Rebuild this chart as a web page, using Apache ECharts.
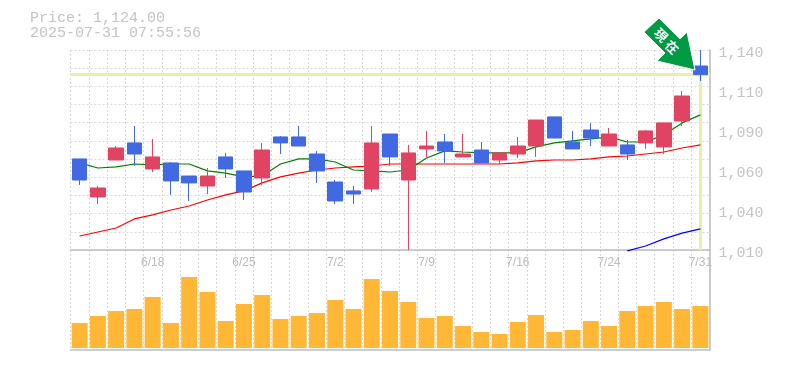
<!DOCTYPE html>
<html>
<head>
<meta charset="utf-8">
<style>html,body{margin:0;padding:0;background:#fff}#c{width:785px;height:370px}</style>
<script src="https://cdn.jsdelivr.net/npm/echarts@6/dist/echarts.min.js"></script>
</head>
<body>
<div id="c"></div>
<script>
const dates = ['6/12','6/13','6/16','6/17','6/18','6/19','6/20','6/23','6/24','6/25','6/26','6/27','6/30','7/1','7/2','7/3','7/4','7/7','7/8','7/9','7/10','7/11','7/14','7/15','7/16','7/17','7/18','7/22','7/23','7/24','7/25','7/28','7/29','7/30','7/31'];
const opens  = [1069.2,1044.5,1068.5,1079.6,1062.7,1066.6,1058.1,1051.6,1070.5,1061.4,1056.8,1083.5,1083.5,1072.4,1054.2,1048.4,1049.7,1085.4,1055.5,1075.7,1080.2,1070.5,1075,1068.5,1072.4,1077.6,1096.5,1080.2,1088,1077.6,1078.3,1079.6,1077,1093.9,1129.6];
const closes = [1055.5,1050.3,1076.3,1072.4,1070.5,1054.9,1053.6,1058.1,1062.7,1047.7,1075,1079.6,1077.6,1061.4,1041.9,1046.4,1079.6,1070.5,1073.1,1077.6,1074.4,1072.4,1066.6,1073.1,1077.6,1094.5,1082.8,1075.7,1082.8,1085.4,1072.4,1087.4,1092.6,1110.1,1124];
const lows   = [1052.3,1039.9,1068.5,1064.6,1060.7,1045.8,1041.9,1046.4,1056.8,1042.5,1052.3,1072.4,1077.6,1053.6,1039.9,1039.9,1047.7,1064.6,1010,1070.5,1066.6,1070.5,1066.6,1065.9,1069.8,1070.5,1082.8,1075.7,1077.6,1077.6,1068.5,1075.7,1072.4,1090.6,1119.9];
const highs  = [1069.2,1051.6,1077.6,1090.6,1082.2,1067.2,1058.1,1063.3,1073.1,1061.4,1079.6,1084.1,1090.6,1074.4,1055.5,1051.6,1090.6,1085.4,1078.3,1087.4,1085.4,1085.4,1080.2,1073.1,1083.5,1094.5,1096.5,1087.4,1092.6,1089.3,1081.5,1088,1092.6,1113.4,1140];
const maShort = [1066.6,1063.3,1064,1065.9,1065.3,1065.9,1065.9,1061.4,1060,1057.5,1058.1,1065.9,1069.2,1069.2,1067.2,1062,1061.4,1060.7,1062,1069.8,1074.4,1073.7,1073.1,1073.1,1073.1,1077,1079.6,1080.9,1082.2,1083.5,1080.2,1080.2,1084.8,1092.6,1097.8];
const maMid = [1019.1,1021.7,1024.3,1030.2,1032.8,1036,1038.6,1042.5,1045.8,1048.4,1053.6,1057.5,1060,1062,1063.3,1064,1064.6,1065.9,1065.9,1065.9,1065.9,1065.9,1065.9,1065.9,1066.6,1067.9,1068.5,1068.5,1069.2,1070.5,1071.1,1072.4,1073.7,1076.3,1078.3];
const maLong = [null,null,null,null,null,null,null,null,null,null,null,null,null,null,null,null,null,null,null,null,null,null,null,null,null,null,null,null,null,null,1009.4,1012.6,1017.2,1021,1023.7];
const volumes = [25,32,37,39,51,25,71,56,27,44,53,29,32,35,48,39,69,57,46,30,32,22,16,14,26,33,16,18,27,22,37,42,46,39,42];
const priceTicks = [1010,1036,1062,1088,1114,1140];
const priceTickLabels = ['1,010','1,040','1,060','1,090','1,110','1,140'];
const lastPrice = 1124;
const titleLines = ['Price: 1,124.00','2025-07-31 07:55:56'];
const arrowText = ['現','在'];

const GREY = '#bdbdbd', GRID = '#d8d8d8', MONO = '"Liberation Mono", monospace';
const dashed = {show:true, lineStyle:{color:GRID, type:[2,2], width:1}};
const lastDate = dates[dates.length-1];
const chart = echarts.init(document.getElementById('c'), null, {renderer:'canvas'});
chart.setOption({
  animation:false,
  backgroundColor:'#fff',
  title:{text:titleLines.join('\n'), left:30, top:11, padding:0,
    textStyle:{fontFamily:MONO, fontSize:15, fontWeight:'normal', color:'#c4c4c4', lineHeight:15}},
  grid:[
    {left:70.5, top:50, width:639, height:200},
    {left:70.5, top:250, width:639, height:100}
  ],
  xAxis:[
    {type:'category', data:dates, gridIndex:0, boundaryGap:true,
      axisLine:{show:true, onZero:false, lineStyle:{color:GREY, width:1.5}}, axisTick:{show:false},
      splitLine:Object.assign({interval:0}, dashed),
      axisLabel:{interval:(i)=>i%5===4, margin:7, fontFamily:'"Liberation Sans"', fontSize:12, color:'#bbb', hideOverlap:false}},
    {type:'category', data:dates, gridIndex:1, boundaryGap:true,
      axisLine:{show:true, onZero:false, lineStyle:{color:GREY, width:1.5}}, axisTick:{show:false},
      splitLine:Object.assign({interval:0}, dashed), axisLabel:{show:false}}
  ],
  yAxis:[
    {type:'value', gridIndex:0, position:'right', min:1010, max:1140, scale:true,
      axisLine:{show:true, lineStyle:{color:GREY, width:1.5}}, axisTick:{show:false}, splitLine:{show:false},
      axisLabel:{customValues:priceTicks, margin:9, verticalAlign:'top', lineHeight:7, fontFamily:MONO, fontSize:15, color:'#c4c4c4',
        formatter:(v)=>priceTickLabels[priceTicks.indexOf(v)]}},
    {type:'value', gridIndex:0, position:'left', min:0, max:11, interval:1,
      axisLine:{show:false}, axisTick:{show:false}, axisLabel:{show:false}, splitLine:dashed},
    {type:'value', gridIndex:1, position:'right', min:-2, max:98,
      axisLine:{show:true, lineStyle:{color:GREY, width:1.5}}, axisTick:{show:false}, axisLabel:{show:false}, splitLine:{show:false}}
  ],
  series:[
    {type:'line', name:'marker', data:[], xAxisIndex:0, yAxisIndex:0, z:1, silent:true, symbol:'none',
      markLine:{silent:true, symbol:'none', z:1, animation:false, label:{show:false},
        lineStyle:{color:'#e3f3a6', width:3, type:'solid'},
        data:[
          [{xAxis:dates[0], yAxis:lastPrice, x:70},{xAxis:lastDate, yAxis:lastPrice, x:710}],
          [{xAxis:lastDate, yAxis:lastPrice},{xAxis:lastDate, yAxis:1010}]
        ]}},
    {type:'line', name:'long', data:maLong, xAxisIndex:0, yAxisIndex:0, z:3, clip:false, symbol:'none', silent:true, lineStyle:{color:'#0000ff', width:1.2}},
    {type:'line', name:'mid', data:maMid, xAxisIndex:0, yAxisIndex:0, z:3, symbol:'none', silent:true, lineStyle:{color:'#ff0000', width:1.2}},
    {type:'line', name:'short', data:maShort, xAxisIndex:0, yAxisIndex:0, z:3, symbol:'none', silent:true, lineStyle:{color:'#008000', width:1.2}},
    {type:'candlestick', name:'price', xAxisIndex:0, yAxisIndex:0, z:4, barWidth:15, silent:true,
      data:dates.map((d,i)=>[opens[i],closes[i],lows[i],highs[i]]),
      itemStyle:{color:'#e14363', color0:'#4169e1', borderColor:'#e14363', borderColor0:'#4169e1', borderWidth:1}},
    {type:'bar', name:'volume', xAxisIndex:1, yAxisIndex:2, data:volumes, barWidth:16, silent:true, itemStyle:{color:'#ffb735'}}
  ],
  graphic:[
    {type:'polygon', z:100, shape:{points:[[659,18],[644,32],[665,53],[657,61],[695,70],[687,32],[680,39]]},
      style:{fill:'#009944', stroke:'#ffffff', lineWidth:1}},
    {type:'text', z:101, x:661, y:35, rotation:-Math.PI/4, style:{text:arrowText[0], fill:'#fff', fontSize:13, fontWeight:'bold', fontFamily:'"Noto Sans CJK JP"', align:'center', verticalAlign:'middle'}},
    {type:'text', z:101, x:672, y:47, rotation:-Math.PI/4, style:{text:arrowText[1], fill:'#fff', fontSize:13, fontWeight:'bold', fontFamily:'"Noto Sans CJK JP"', align:'center', verticalAlign:'middle'}}
  ]
});
</script>
</body>
</html>
